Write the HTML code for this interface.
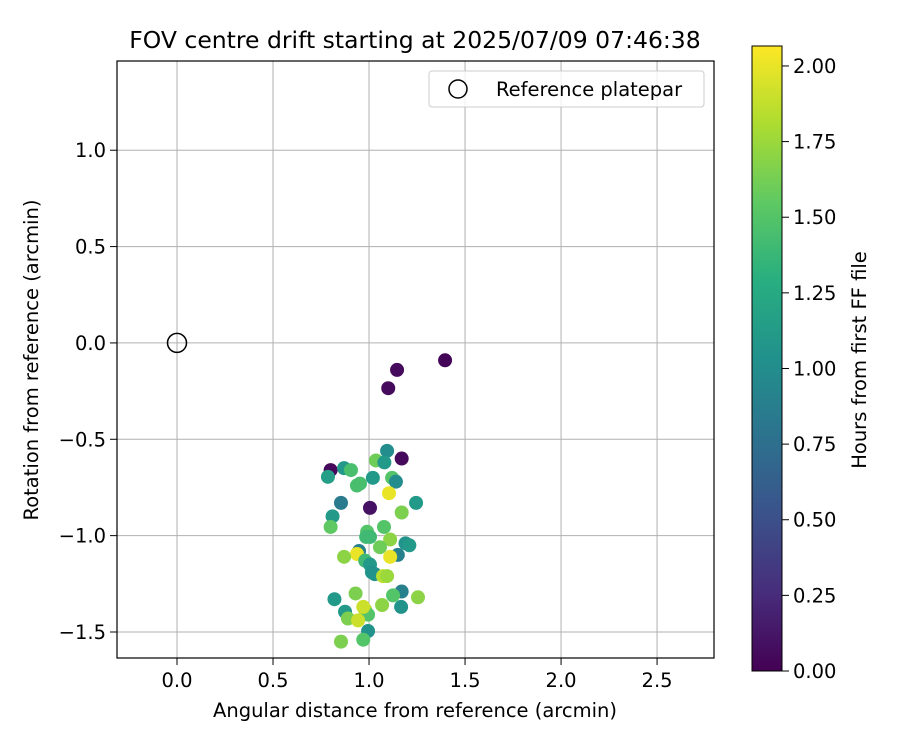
<!DOCTYPE html>
<html><head><meta charset="utf-8"><style>
body{margin:0;background:#fff;}
svg{font-family:"DejaVu Sans","Liberation Sans",sans-serif;}
</style></head><body>
<svg id="chart" width="900" height="750" xmlns="http://www.w3.org/2000/svg">
<defs>
<linearGradient id="vir" x1="0" y1="1" x2="0" y2="0">
<stop offset="0" stop-color="#440154"/><stop offset="0.125" stop-color="#472d7b"/><stop offset="0.25" stop-color="#3b528b"/><stop offset="0.375" stop-color="#2c728e"/><stop offset="0.5" stop-color="#21918c"/><stop offset="0.625" stop-color="#28ae80"/><stop offset="0.75" stop-color="#5ec962"/><stop offset="0.875" stop-color="#addc30"/><stop offset="1" stop-color="#fde725"/>
</linearGradient>
<clipPath id="clip"><rect x="117" y="61" width="597" height="597"/></clipPath>
</defs>
<text x="415" y="48" font-size="23.5" text-anchor="middle">FOV centre drift starting at 2025/07/09 07:46:38</text>
<g id="grid"></g>
<g id="pts" clip-path="url(#clip)"></g>
<rect x="117" y="61" width="597" height="597" fill="none" stroke="#000" stroke-width="1.2"/>
<g id="axes"></g>
<text x="415" y="717" font-size="19.5" text-anchor="middle">Angular distance from reference (arcmin)</text>
<text transform="translate(38,360) rotate(-90)" font-size="19.5" text-anchor="middle">Rotation from reference (arcmin)</text>
<g>
<rect x="429" y="71" width="275" height="36" rx="3" fill="#fff" fill-opacity="0.8" stroke="#ccc"/>
<circle cx="458" cy="89" r="9" fill="none" stroke="#000" stroke-width="1.5"/>
<text x="496" y="96" font-size="19.5">Reference platepar</text>
</g>
<rect x="752" y="46" width="30" height="625" fill="url(#vir)" stroke="#000" stroke-width="1"/>
<g id="cbticks"></g>
<text transform="translate(866,360) rotate(-90)" font-size="19.5" text-anchor="middle">Hours from first FF file</text>
</svg>
<script>
const xs=[1.396,1.146,1.10,1.094,1.17,1.036,1.08,0.80,0.87,0.906,0.786,0.953,0.937,1.02,1.12,1.14,1.104,0.854,1.245,1.005,1.17,0.81,0.80,1.078,0.99,1.005,0.985,1.11,1.19,1.21,1.057,0.948,0.937,0.87,1.15,1.11,0.98,1.005,1.015,1.03,1.073,1.094,1.17,1.125,1.255,0.82,0.93,1.068,1.167,0.875,0.98,0.995,0.89,0.943,0.995,0.854,0.97,0.97];
const ys=[-0.09,-0.14,-0.235,-0.56,-0.60,-0.61,-0.62,-0.66,-0.65,-0.66,-0.695,-0.73,-0.74,-0.70,-0.70,-0.72,-0.78,-0.83,-0.83,-0.856,-0.88,-0.90,-0.955,-0.955,-0.98,-1.007,-1.007,-1.02,-1.04,-1.05,-1.06,-1.08,-1.095,-1.11,-1.10,-1.11,-1.13,-1.15,-1.19,-1.20,-1.21,-1.21,-1.29,-1.31,-1.32,-1.33,-1.30,-1.36,-1.37,-1.395,-1.385,-1.41,-1.43,-1.44,-1.495,-1.55,-1.54,-1.37];
const hours=[0.02,0.05,0.05,1.0,0.05,1.6,1.1,0.05,1.1,1.45,1.15,1.45,1.45,1.1,1.5,1.0,2.0,0.85,1.1,0.1,1.65,1.1,1.55,1.5,1.5,1.4,1.4,1.7,1.05,1.1,1.6,0.9,2.0,1.7,0.9,2.0,1.4,1.1,1.05,1.05,1.85,1.75,0.9,1.5,1.7,1.1,1.65,1.7,1.05,1.1,1.8,1.5,1.65,1.9,1.05,1.65,1.5,1.9];
const xTicks=[0.0,0.5,1.0,1.5,2.0,2.5];
const yTicks=[-1.5,-1.0,-0.5,0.0,0.5,1.0];
const cTicks=[0,0.25,0.5,0.75,1.0,1.25,1.5,1.75,2.0];
const ref=[0,0];
const X=v=>117+(v+0.3125)/3.109*597, Y=v=>658-(v+1.635)/3.098*597;
const CB=v=>671-v/2.066*625;
const ns="http://www.w3.org/2000/svg";
const stops=[[68,1,84],[71,45,123],[59,82,139],[44,114,142],[33,145,140],[40,174,128],[94,201,98],[173,220,48],[253,231,37]];
function vir(t){t=Math.max(0,Math.min(1,t))*8;const i=Math.min(7,Math.floor(t)),f=t-i;const a=stops[i],b=stops[i+1];return `rgb(${a.map((c,k)=>Math.round(c+(b[k]-c)*f)).join(',')})`;}
function mk(tag,at,p){const e=document.createElementNS(ns,tag);for(const k in at)e.setAttribute(k,at[k]);p.appendChild(e);return e;}
const g=document.getElementById('grid'),ax=document.getElementById('axes'),pg=document.getElementById('pts'),cb=document.getElementById('cbticks');
xTicks.forEach(t=>{const l=mk('line',{x1:X(t),x2:X(t),y1:61,y2:658,stroke:'#b0b0b0','stroke-width':1},g);
mk('line',{x1:X(t),x2:X(t),y1:658,y2:665,stroke:'#000'},ax);const tx=mk('text',{x:X(t),y:687,'font-size':19.5,'text-anchor':'middle'},ax);tx.textContent=t.toFixed(1);});
yTicks.forEach(t=>{const l=mk('line',{x1:117,x2:714,y1:Y(t),y2:Y(t),stroke:'#b0b0b0','stroke-width':1},g);
mk('line',{x1:110,x2:117,y1:Y(t),y2:Y(t),stroke:'#000'},ax);const tx=mk('text',{x:106,y:Y(t)+7,'font-size':19.5,'text-anchor':'end'},ax);tx.textContent=t.toFixed(1).replace('-','\u2212');});
const rc=mk('circle',{cx:X(ref[0]),cy:Y(ref[1]),r:9.5,fill:'none',stroke:'#000','stroke-width':1.5},pg);


xs.forEach((v,i)=>{const c=mk('circle',{cx:X(v),cy:Y(ys[i]),r:7,fill:vir(hours[i]/2.066)},pg);

});
cTicks.forEach(t=>{mk('line',{x1:782,x2:789,y1:CB(t),y2:CB(t),stroke:'#000'},cb);const tx=mk('text',{x:793,y:CB(t)+7,'font-size':19.5},cb);tx.textContent=t.toFixed(2);

});
</script>
</body></html>
